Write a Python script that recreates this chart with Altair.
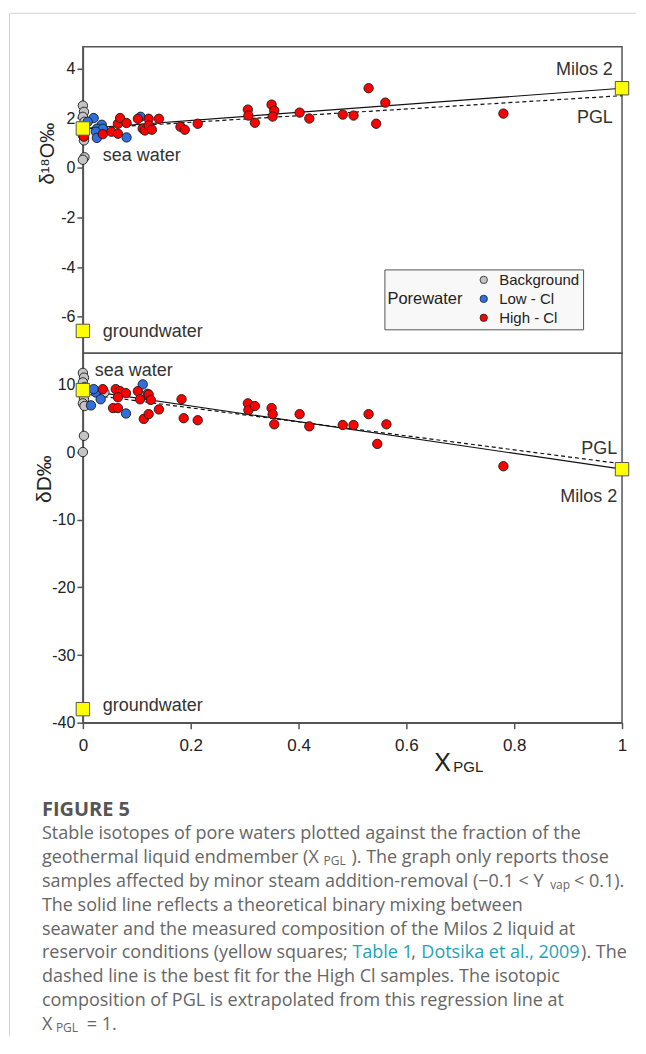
import altair as alt
import pandas as pd

# ---------------- data ----------------
# delta 18O panel
bg_x_o = [0.0, 0.002, 0.0, 0.003, 0.0, 0.002, 0.003, 0.0]
bg_o = [2.5, 2.25, 2.05, 1.85, 1.3, 1.1, 0.42, 0.32]
low_x_o = [0.02, 0.009, 0.035, 0.026, 0.037, 0.024, 0.026, 0.081, 0.107]
low_o = [2.0, 1.85, 1.73, 1.57, 1.57, 1.45, 1.2, 1.22, 2.05]
high_x_o = [0.002, 0.037, 0.053, 0.065, 0.065, 0.069, 0.081, 0.102, 0.111, 0.115,
            0.122, 0.122, 0.128, 0.141, 0.181, 0.189, 0.213, 0.306, 0.307, 0.319,
            0.35, 0.355, 0.352, 0.402, 0.42, 0.482, 0.502, 0.544, 0.561, 0.53, 0.78]
high_o = [1.25, 1.35, 1.45, 1.37, 1.77, 2.0, 1.8, 1.97, 1.57, 1.5,
          1.97, 1.7, 1.53, 1.97, 1.65, 1.53, 1.77, 2.34, 2.1, 1.81,
          2.54, 2.3, 2.06, 2.22, 1.98, 2.14, 2.1, 1.77, 2.62, 3.2, 2.18]

# delta D panel
bg_x_d = [0.0, 0.002, 0.0, 0.003, 0.0, 0.002, 0.0, 0.003, 0.002, 0.0, 0.04]
bg_d = [11.7, 11.0, 10.3, 9.6, 8.5, 7.8, 7.2, 6.8, 2.4, 0.0, 8.8]
low_x_d = [0.015, 0.024, 0.033, 0.111, 0.12, 0.08, 0.02]
low_d = [6.9, 8.8, 7.8, 10.0, 8.6, 5.7, 9.3]
high_x_d = [0.037, 0.061, 0.069, 0.065, 0.08, 0.056, 0.065, 0.102, 0.106, 0.122,
            0.126, 0.113, 0.122, 0.141, 0.183, 0.187, 0.213, 0.306, 0.307, 0.319,
            0.35, 0.352, 0.355, 0.402, 0.42, 0.482, 0.502, 0.53, 0.546, 0.563, 0.78]
high_d = [9.3, 9.3, 9.0, 8.1, 8.7, 6.5, 6.5, 9.0, 7.8, 8.5,
          7.7, 4.9, 5.6, 6.3, 7.8, 5.0, 4.7, 7.2, 6.2, 6.8,
          6.5, 5.6, 4.1, 5.6, 3.8, 4.0, 4.0, 5.6, 1.2, 4.1, -2.1]

# endmembers (yellow squares)
end_names = ["sea water", "groundwater", "Milos 2"]
end_x = [0.0, 0.0, 1.0]
end_o = [1.58, -6.57, 3.2]
end_d = [9.15, -38.0, -2.53]

# mixing line (solid) and High-Cl regression (dashed)
line_x = [0.0, 1.0]
mix_o = [1.58, 3.2]
fit_o = [1.56, 2.90]
mix_d = [9.15, -2.53]
fit_d = [8.6, -1.74]

groups = ["Background", "Low - Cl", "High - Cl"]
group_colors = ["#c4c4c4", "#2f6fe0", "#ff0000"]

x_ticks = [0, 0.2, 0.4, 0.6, 0.8, 1]
o_ticks = [-6, -4, -2, 0, 2, 4]
d_ticks = [-40, -30, -20, -10, 0, 10]

# ---------------- helpers ----------------
FONT = "Liberation Sans"
CAPFONT = "Open Sans"
one = pd.DataFrame({"v": [0]})


def pts(bx, by, lx, ly, hx, hy):
    return pd.DataFrame({
        "x": bx + lx + hx,
        "y": by + ly + hy,
        "group": [groups[0]] * len(bx) + [groups[1]] * len(lx) + [groups[2]] * len(hx),
    })


XS = alt.Scale(domain=[0, 1], nice=False, zero=False)
YS_O = alt.Scale(domain=[-7.47, 4.87], nice=False, zero=False)
YS_D = alt.Scale(domain=[-40, 14.6], nice=False, zero=False)

axis_style = dict(grid=False, title=None, domainColor="#555", tickColor="#555",
                  domainWidth=1.5, tickWidth=1.5, labelFont=FONT, labelColor="#222",
                  labelFlush=False, labelOverlap=False)
y_label_expr = "datum.value < 0 ? '-' + abs(datum.value) : '' + datum.value"
AX_O = alt.Axis(values=o_ticks, labelExpr=y_label_expr, tickSize=6, labelPadding=2,
                labelFontSize=16, **axis_style)
AX_D = alt.Axis(values=d_ticks, labelExpr=y_label_expr, tickSize=6, labelPadding=2,
                labelFontSize=16, **axis_style)
AX_X = alt.Axis(values=x_ticks, labelExpr="'' + datum.value", tickSize=6, labelPadding=9,
                labelFontSize=17, **axis_style)

color_scale = alt.Scale(domain=groups, range=group_colors)


def enc_x(xaxis):
    return alt.X("x:Q", scale=XS, axis=xaxis)


def panel(xaxis, ys, yaxis, px, ly, lfit, ey, legend, labels_left, labels_right):
    X = enc_x(xaxis)
    Y = alt.Y("y:Q", scale=ys, axis=yaxis)
    mix = alt.Chart(pd.DataFrame({"x": line_x, "y": ly})).mark_line(
        color="#111", strokeWidth=1.2).encode(x=X, y=Y)
    fit = alt.Chart(pd.DataFrame({"x": line_x, "y": lfit})).mark_line(
        color="#111", strokeWidth=1.2, strokeDash=[4, 3]).encode(x=X, y=Y)
    points = alt.Chart(px).mark_circle(size=88, opacity=1, stroke="#1a1a1a", strokeWidth=0.9).encode(
        x=X, y=Y,
        color=alt.Color("group:N", scale=color_scale, legend=legend),
    )
    squares = alt.Chart(pd.DataFrame({"x": end_x, "y": ey, "name": end_names})).mark_square(
        size=180, filled=True, fill="#ffff00", stroke="#555", strokeWidth=1, opacity=1
    ).encode(x=X, y=Y)
    tl = alt.Chart(labels_left).mark_text(font=FONT, fontSize=18, color="#333", align="left",
                                          baseline="middle").encode(x=X, y=Y, text="t:N")
    tr = alt.Chart(labels_right).mark_text(font=FONT, fontSize=18, color="#333", align="right",
                                           baseline="middle").encode(x=X, y=Y, text="t:N")
    return [mix, fit, points, squares, tl, tr]


legend_top = alt.Legend(
    title="Porewater", orient="none", legendX=302, legendY=223, direction="vertical",
    titleOrient="left", titleAnchor="middle", titleBaseline="middle",
    titleFont=FONT, titleFontSize=16.5, titleFontWeight="normal", titleColor="#222", titlePadding=13,
    labelFont=FONT, labelFontSize=15, labelColor="#222", labelOffset=8,
    symbolType="circle", symbolSize=55, symbolStrokeColor="#222", symbolStrokeWidth=0.8,
    rowPadding=3, padding=3, fillColor="#f8f8f8", strokeColor="#555", cornerRadius=0,
)

top_left = pd.DataFrame({"x": [0.037, 0.037], "y": [0.49, -6.61], "t": ["sea water", "groundwater"]})
top_right = pd.DataFrame({"x": [0.983, 0.983], "y": [3.94, 2.02], "t": ["Milos 2", "PGL"]})
bot_left = pd.DataFrame({"x": [0.022, 0.037], "y": [11.95, -37.5], "t": ["sea water", "groundwater"]})
bot_right = pd.DataFrame({"x": [0.991, 0.991], "y": [0.5, -6.6], "t": ["PGL", "Milos 2"]})

top_layers = panel(None, YS_O, AX_O, pts(bg_x_o, bg_o, low_x_o, low_o, high_x_o, high_o),
                   mix_o, fit_o, end_o, legend_top, top_left, top_right)
bot_layers = panel(AX_X, YS_D, AX_D, pts(bg_x_d, bg_d, low_x_d, low_d, high_x_d, high_d),
                   mix_d, fit_d, end_d, None, bot_left, bot_right)

# page frame lines and axis titles (pixel positions relative to each plot area)
frame_v = alt.Chart(one).mark_rule(color="#d4d4d4", strokeWidth=1).encode(
    x=alt.value(-73.5), y=alt.value(-33.5), y2=alt.value(1036 - 45))
frame_h = alt.Chart(one).mark_rule(color="#d4d4d4", strokeWidth=1).encode(
    x=alt.value(-73.5), x2=alt.value(554), y=alt.value(-33.5))
ytitle_o = alt.Chart(one).mark_text(text="δ¹⁸O‰", font=FONT, fontSize=20, angle=270, color="#222",
                                    align="center", baseline="middle").encode(
    x=alt.value(47 - 82), y=alt.value(152 - 45))
ytitle_d = alt.Chart(one).mark_text(text="δD‰", font=FONT, fontSize=21, angle=270, color="#222",
                                    align="center", baseline="middle").encode(
    x=alt.value(44 - 82), y=alt.value(478 - 352))
xtitle_X = alt.Chart(one).mark_text(text="X", font=FONT, fontSize=25, color="#222",
                                    align="left", baseline="middle").encode(
    x=alt.value(434 - 82), y=alt.value(762 - 352))
xtitle_sub = alt.Chart(one).mark_text(text="PGL", font=FONT, fontSize=15, color="#222",
                                      align="left", baseline="middle").encode(
    x=alt.value(453 - 82), y=alt.value(766 - 352))

# caption (page coordinates converted relative to bottom plot origin)
OX, OY = 82, 352
cap_y = [809, 833.5, 857.5, 881.5, 905.5, 929.5, 953, 977, 1001, 1025]
caption_segments = [
    (0, 41, "FIGURE 5", "bold"),
    (1, 41, "Stable isotopes of pore waters plotted against the fraction of the", "n"),
    (2, 41, "geothermal liquid endmember (X", "n"),
    (2, 323, "PGL", "sub"),
    (2, 351, "). The graph only reports those", "n"),
    (3, 41, "samples affected by minor steam addition-removal (−0.1 < Y", "n"),
    (3, 550, "vap", "sub"),
    (3, 574, "< 0.1).", "n"),
    (4, 41, "The solid line reflects a theoretical binary mixing between", "n"),
    (5, 41, "seawater and the measured composition of the Milos 2 liquid at", "n"),
    (6, 41, "reservoir conditions (yellow squares;", "n"),
    (6, 352, "Table 1", "link"),
    (6, 411, ",", "n"),
    (6, 421, "Dotsika et al., 2009", "link"),
    (6, 581, "). The", "n"),
    (7, 41, "dashed line is the best fit for the High Cl samples. The isotopic", "n"),
    (8, 41, "composition of PGL is extrapolated from this regression line at", "n"),
    (9, 41, "X", "n"),
    (9, 55, "PGL", "sub"),
    (9, 86, "= 1.", "n"),
]
caption_layers = []
for row, px_, txt, kind in caption_segments:
    props = dict(text=txt, font=CAPFONT, fontSize=18, color="#666", align="left", baseline="middle")
    yy = cap_y[row]
    if kind == "bold":
        props.update(fontWeight="bold", color="#555", fontSize=20)
    elif kind == "sub":
        props.update(fontSize=12)
        yy += 3
    elif kind == "link":
        props.update(color="#1fa2b6")
    caption_layers.append(
        alt.Chart(one).mark_text(**props).encode(x=alt.value(px_ - OX), y=alt.value(yy - OY))
    )

top = alt.layer(frame_v, frame_h, *top_layers, ytitle_o).properties(width=540, height=307)
bottom = alt.layer(*bot_layers, ytitle_d, xtitle_X, xtitle_sub, *caption_layers).properties(
    width=540, height=370)

chart = (
    alt.vconcat(top, bottom, spacing=0, bounds="flush")
    .resolve_scale(color="independent")
    .resolve_legend(color="independent")
    .properties(padding={"left": 0, "top": 3, "right": 0, "bottom": 0}, background="white")
    .configure_view(stroke="#555", strokeWidth=1.5)
)

chart.save("out.html", embed_options={"renderer": "svg", "actions": False})
